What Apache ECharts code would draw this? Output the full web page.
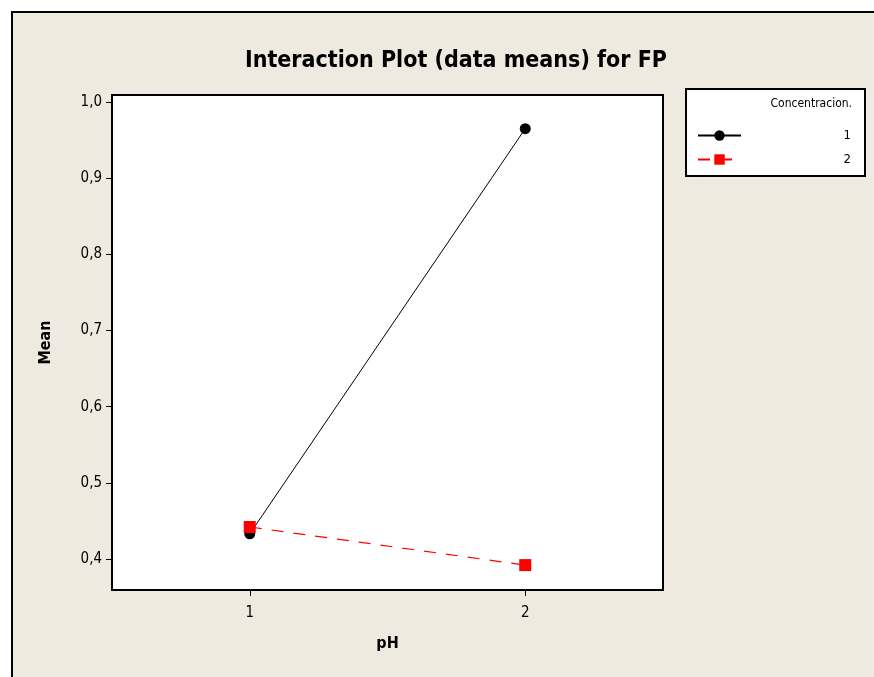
<!DOCTYPE html>
<html>
<head>
<meta charset="utf-8">
<script src="https://cdn.jsdelivr.net/npm/echarts@6/dist/echarts.min.js"></script>
<style>
  html, body { margin: 0; padding: 0; background: #fff; }
  #main { width: 874px; height: 677px; }
</style>
</head>
<body>
<div id="main"></div>
<script>
const phLevels = [1, 2]
const conc1 = [0.433, 0.965]
const conc2 = [0.442, 0.392]
const yTicks = [0.4, 0.5, 0.6, 0.7, 0.8, 0.9, 1.0]
const legendNames = ['1', '2']

const font = 'Tahoma, "DejaVu Sans Condensed", "DejaVu Sans", sans-serif'
const chart = echarts.init(document.getElementById('main'))

chart.setOption({
  backgroundColor: '#ffffff',
  animation: false,
  graphic: [
    { // fondo beige con borde
      type: 'rect', z: -10, silent: true,
      shape: { x: 12, y: 12, width: 900, height: 700 },
      style: { fill: '#eeeae0', stroke: '#000', lineWidth: 2 }
    },
    { // caja de la leyenda
      type: 'rect', z: 1, silent: true,
      shape: { x: 686, y: 89, width: 179, height: 87 },
      style: { fill: '#fff', stroke: '#000', lineWidth: 2 }
    },
    {
      type: 'text', z: 2, silent: true,
      style: { x: 852, y: 98, text: 'Concentracion.', textAlign: 'right', fill: '#000', font: '12px ' + font }
    }
  ],
  title: {
    text: 'Interaction Plot (data means) for FP',
    left: 240, top: 45,
    textStyle: { fontFamily: font, fontSize: 23, fontWeight: 'bold', color: '#000' }
  },
  legend: {
    data: legendNames,
    orient: 'vertical',
    left: 692, top: 124,
    itemWidth: 43, itemHeight: 13, itemGap: 11,
    formatter: '{a|{name}}',
    textStyle: {
      fontFamily: font, fontSize: 13, color: '#000',
      rich: { a: { width: 105, align: 'right', fontFamily: font, fontSize: 13, color: '#000' } }
    },
    z: 3
  },
  grid: {
    left: 112, top: 95, width: 551, height: 495,
    show: true, backgroundColor: '#fff', borderColor: '#000', borderWidth: 2
  },
  xAxis: {
    type: 'value', min: 0.5, max: 2.5,
    name: 'pH', nameLocation: 'middle', nameGap: 46,
    nameTextStyle: { fontFamily: font, fontSize: 16, fontWeight: 'bold', color: '#000' },
    axisLine: { show: true, lineStyle: { color: '#000', width: 2 } },
    axisTick: { show: true, length: 6, customValues: phLevels, lineStyle: { color: '#000' } },
    axisLabel: { customValues: phLevels, margin: 16, fontFamily: font, fontSize: 15, color: '#000' },
    splitLine: { show: false }
  },
  yAxis: {
    type: 'value', min: 0.3593, max: 1.0092,
    name: 'Mean', nameLocation: 'middle', nameGap: 58, nameRotate: 90,
    nameTextStyle: { fontFamily: font, fontSize: 16, fontWeight: 'bold', color: '#000' },
    axisLine: { show: true, lineStyle: { color: '#000', width: 2 } },
    axisTick: { show: true, length: 6, customValues: yTicks, lineStyle: { color: '#000' } },
    axisLabel: {
      customValues: yTicks, margin: 10, fontFamily: font, fontSize: 15, color: '#000',
      formatter: v => v.toFixed(1).replace('.', ',')
    },
    splitLine: { show: false }
  },
  series: [
    {
      name: '1', type: 'line',
      data: phLevels.map((p, i) => [p, conc1[i]]),
      symbol: 'circle', symbolSize: 11,
      itemStyle: { color: '#000' },
      lineStyle: { color: '#000', width: 1 }
    },
    {
      name: '2', type: 'line',
      data: phLevels.map((p, i) => [p, conc2[i]]),
      symbol: 'rect', symbolSize: 12,
      itemStyle: { color: '#ff0000' },
      lineStyle: { color: '#ff0000', width: 1.2, type: [12, 10] }
    }
  ]
})
</script>
</body>
</html>
